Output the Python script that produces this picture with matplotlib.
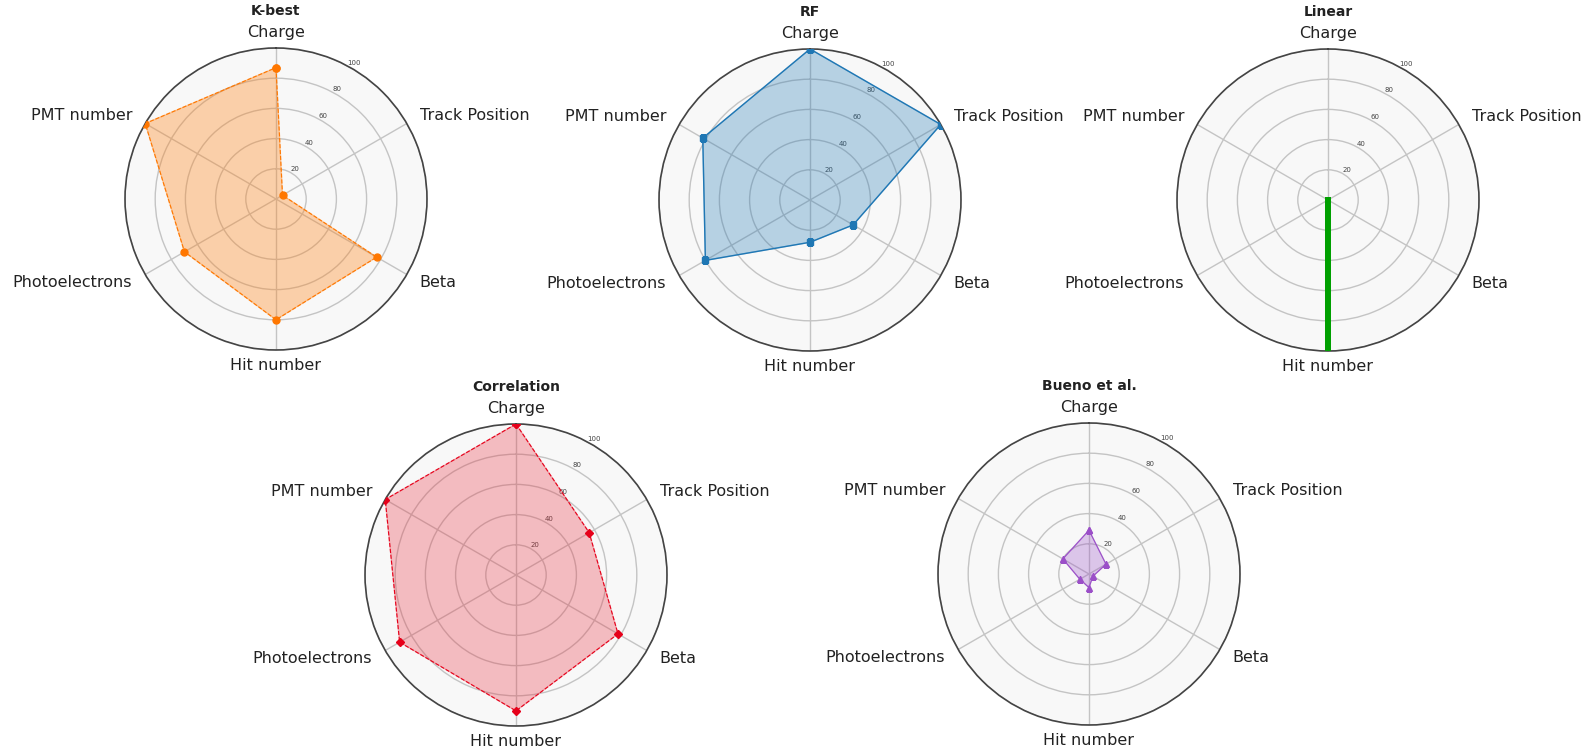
import numpy as np
import matplotlib
matplotlib.use('Agg')
from matplotlib import pyplot as plt

# feature names, clockwise from the top
categories = ['Charge', 'Track Position', 'Beta', 'Hit number', 'Photoelectrons', 'PMT number']

kbest = [87, 5, 77, 80, 70, 100]
rf = [100, 100, 33, 28, 80, 82]
linear = [0, 0, 0, 100, 0, 0]
correlation = [100, 56, 78, 90, 89, 100]
bueno = [29, 13, 3, 9, 7, 20]

W, H = 1588, 751
fig = plt.figure(figsize=(W / 100, H / 100), dpi=100)

angles = np.linspace(0, 2 * np.pi, len(categories), endpoint=False).tolist()
angles_closed = angles + angles[:1]


def radar(cx, cy, values, title, color, fillcolor, marker, ls, lw=1.0, ms=5, fill_alpha=0.3):
    r = 151
    ax = fig.add_axes([(cx - r) / W, (H - cy - r) / H, 2 * r / W, 2 * r / H], polar=True)
    ax.set_theta_offset(np.pi / 2)
    ax.set_theta_direction(-1)
    ax.set_facecolor('#f8f8f8')
    vals = list(values) + list(values[:1])
    ax.fill(angles_closed, vals, color=fillcolor, alpha=fill_alpha, zorder=2)
    ax.plot(angles_closed, vals, color=color, linestyle=ls, linewidth=lw,
            marker=marker, markersize=ms, zorder=3)
    ax.set_ylim(0, 100)
    ax.set_yticks([20, 40, 60, 80, 100])
    ax.set_yticklabels(['20', '40', '60', '80', '100'], fontsize=5, color='#444444')
    ax.set_rlabel_position(28)
    ax.set_xticks(angles)
    ax.set_xticklabels([])
    # category names outside the circle, pushed away from it on the sides
    for a, name in zip(angles, categories):
        s = np.sin(a)
        ha = 'center' if abs(s) < 0.1 else ('left' if s > 0 else 'right')
        ax.text(a, 110, name, ha=ha, va='center', fontsize=11.5, color='#222222', clip_on=False)
    ax.grid(color='#c4c4c4', linewidth=1.0)
    ax.spines['polar'].set_color('#444444')
    ax.spines['polar'].set_linewidth(1.2)
    # bold model name just above the "Charge" label
    ax.text(0.5, 1 + 37 / 302, title, transform=ax.transAxes, ha='center', va='center',
            fontsize=10, fontweight='bold', color='#222222')
    return ax


radar(276, 199, kbest, 'K-best', '#ff7700', '#ff8418', 'o', '--', lw=0.8, fill_alpha=0.35)
radar(810, 200, rf, 'RF', '#1f77b4', '#1f77b4', 's', '-', lw=1.0)
radar(1328, 200, linear, 'Linear', '#00a000', '#00a000', None, '-', lw=4)
radar(516, 575, correlation, 'Correlation', '#e6001a', '#e8303f', 'D', '--', lw=0.8, ms=4.5)
radar(1089, 574, bueno, 'Bueno et al.', '#9b4fc8', '#9b4fc8', '^', '-', lw=0.8)

plt.savefig('out.png', dpi=100)
